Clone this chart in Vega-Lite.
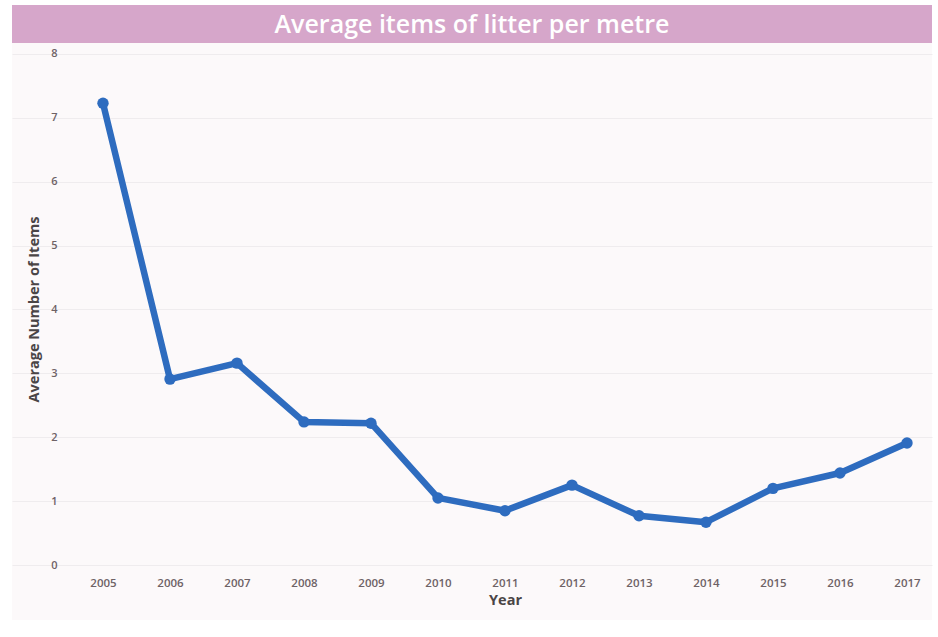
{
  "$schema": "https://vega.github.io/schema/vega-lite/v6.json",
  "background": "#ffffff",
  "padding": {"left": 12, "top": 5, "right": 6, "bottom": 17},
  "bounds": "flush",
  "spacing": 0,
  "config": {"view": {"stroke": null}, "font": "Open Sans"},
  "vconcat": [
    {
      "width": 920,
      "height": 38,
      "view": {"fill": "#d6a6ca", "stroke": null},
      "data": {"values": [{"label": "Average items of litter per metre"}]},
      "mark": {"type": "text", "color": "#ffffff", "fontSize": 25, "fontWeight": 600, "font": "Open Sans", "baseline": "middle", "align": "center", "dy": 1},
      "encoding": {"text": {"field": "label", "type": "nominal"}}
    },
    {
      "width": 920,
      "height": 577,
      "view": {"fill": "#fcf9fa", "stroke": null},
      "data": {
        "values": [
          {"year": 2005, "items": 7.23},
          {"year": 2006, "items": 2.91},
          {"year": 2007, "items": 3.16},
          {"year": 2008, "items": 2.24},
          {"year": 2009, "items": 2.22},
          {"year": 2010, "items": 1.05},
          {"year": 2011, "items": 0.85},
          {"year": 2012, "items": 1.25},
          {"year": 2013, "items": 0.77},
          {"year": 2014, "items": 0.67},
          {"year": 2015, "items": 1.2},
          {"year": 2016, "items": 1.44},
          {"year": 2017, "items": 1.91}
        ]
      },
      "mark": {"type": "line", "color": "#2e6cbf", "strokeWidth": 6.5, "strokeJoin": "round", "point": {"filled": true, "size": 130, "color": "#2e6cbf"}},
      "encoding": {
        "x": {
          "field": "year", "type": "quantitative",
          "scale": {"domain": [2003.642, 2017.373], "nice": false, "zero": false},
          "axis": {
            "title": "Year", "values": [2005, 2006, 2007, 2008, 2009, 2010, 2011, 2012, 2013, 2014, 2015, 2016, 2017],
            "format": "d", "offset": -55, "domain": false, "ticks": false, "grid": false,
            "labelPadding": 12, "labelFontSize": 11.5, "labelColor": "#6e6266", "labelFont": "Open Sans", "labelFontWeight": 600,
            "titleFontSize": 14.5, "titleFontWeight": "bold", "titleColor": "#4a4546", "titlePadding": 5, "titleX": 493, "labelFlush": false
          }
        },
        "y": {
          "field": "items", "type": "quantitative",
          "scale": {"domain": [-0.861, 8.172], "nice": false, "zero": false},
          "axis": {
            "title": "Average Number of Items", "values": [0, 1, 2, 3, 4, 5, 6, 7, 8],
            "offset": -52, "domain": false, "ticks": false, "grid": true, "gridColor": "#efecee", "gridWidth": 1,
            "labelPadding": 7, "labelFontSize": 11, "labelColor": "#6e6266", "labelFont": "Open Sans", "labelFontWeight": 600,
            "titleFontSize": 14.5, "titleFontWeight": "bold", "titleColor": "#4a4546", "titlePadding": 9, "titleY": 266
          }
        }
      }
    }
  ]
}
